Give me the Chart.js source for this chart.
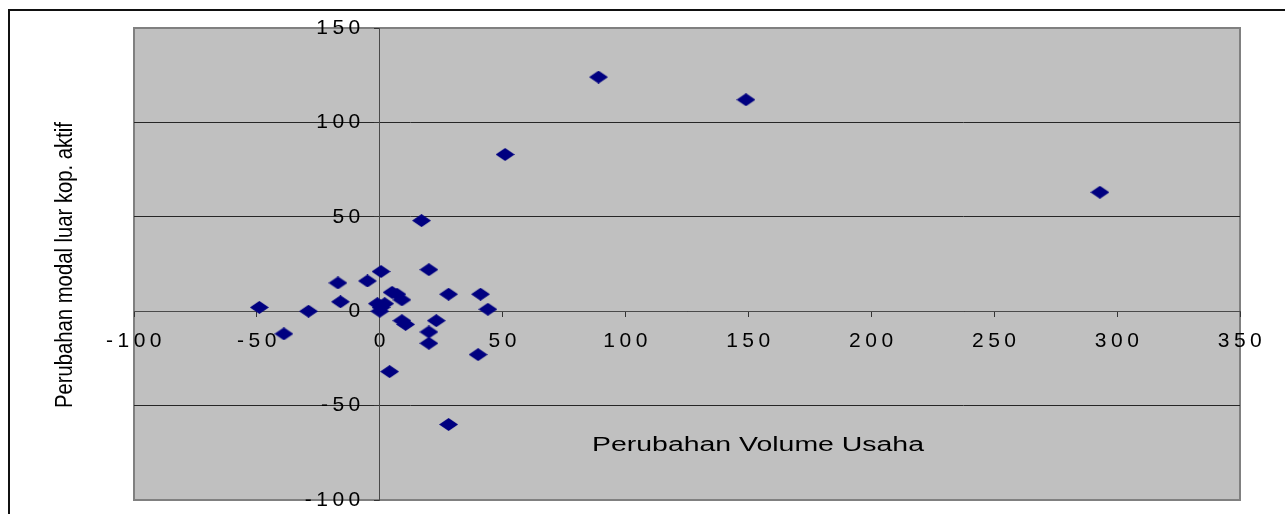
<!DOCTYPE html>
<html>
<head>
<meta charset="utf-8">
<title>Perubahan Volume Usaha</title>
<script src="https://cdn.jsdelivr.net/npm/chart.js@4.4.1/dist/chart.umd.min.js"></script>
<style>
  html, body { margin: 0; padding: 0; background: #ffffff; overflow: hidden; }
  #wrap { width: 1285px; height: 514px; }
</style>
</head>
<body>
<div id="wrap"><canvas id="chart" width="1285" height="514"></canvas></div>
<script>
// Change in business volume (x) against change in outside capital (y)
const volumeChange = [-49, -39, -29, -17, -16, -5, 0.5, -1, 0, 2, 0.5, 5, 7, 9, 9, 10.5,
                      17, 20, 20, 20, 23, 28, 41, 44, 40, 4, 28, 51, 89, 149, 293];
const capitalChange = [2, -12, 0, 15, 5, 16, 21, 4, 0, 4, 2, 10, 9, 6, -5, -7,
                       48, 22, -11, -17, -5, 9, 9, 1, -23, -32, -60, 83, 124, 112, 63];

const xTitle = 'Perubahan Volume Usaha';
const yTitle = 'Perubahan modal luar kop. aktif';

const xRange = [-100, 350];
const yRange = [-100, 150];
const tickStep = 50;

const points = volumeChange.map((v, i) => ({ x: v, y: capitalChange[i] }));

// Flattened diamond marker
function makeDiamond(w, h, color) {
  const c = document.createElement('canvas');
  c.width = w; c.height = h;
  const g = c.getContext('2d');
  g.fillStyle = color;
  g.beginPath();
  g.moveTo(w / 2, 0);
  g.lineTo(w, h / 2);
  g.lineTo(w / 2, h);
  g.lineTo(0, h / 2);
  g.closePath();
  g.fill();
  return c;
}
const diamond = makeDiamond(19, 13, '#000080');

const TICK_SPACING = '4.5px';
const FONT = '"Liberation Sans", Arial, sans-serif';

// scales sit inside the plot, so they should not push the plot edges
function noScalePadding(scale) {
  scale.paddingTop = 0;
  scale.paddingBottom = 0;
  scale.paddingLeft = 0;
  scale.paddingRight = 0;
}

const framePlugin = {
  id: 'frame',
  beforeLayout(chart) { chart.ctx.letterSpacing = TICK_SPACING; },
  beforeDraw(chart) {
    const { ctx, chartArea: a } = chart;
    ctx.save();
    ctx.letterSpacing = '0px';
    // outer chart frame (left and top edges)
    ctx.fillStyle = '#111111';
    ctx.fillRect(8, 9, 2, 505);
    ctx.fillRect(8, 9, 1277, 2);
    // plot area
    ctx.fillStyle = '#c0c0c0';
    ctx.fillRect(a.left, a.top, a.right - a.left, a.bottom - a.top);
    ctx.strokeStyle = '#808080';
    ctx.lineWidth = 2;
    ctx.strokeRect(a.left, a.top, a.right - a.left, a.bottom - a.top);
    ctx.restore();
    ctx.letterSpacing = TICK_SPACING;
  },
  afterDraw(chart) {
    const { ctx } = chart;
    ctx.save();
    ctx.letterSpacing = '0px';
    ctx.fillStyle = '#000000';
    ctx.textAlign = 'center';
    ctx.textBaseline = 'alphabetic';

    // horizontal title, inside the plot area
    ctx.font = '20px ' + FONT;
    let w = ctx.measureText(xTitle).width;
    ctx.save();
    ctx.translate(758, 451);
    ctx.scale(332 / w, 1);
    ctx.fillText(xTitle, 0, 0);
    ctx.restore();

    // vertical title, condensed
    ctx.font = '23px ' + FONT;
    w = ctx.measureText(yTitle).width;
    ctx.save();
    ctx.translate(72, 265);
    ctx.rotate(-Math.PI / 2);
    ctx.scale(286 / w, 1);
    ctx.fillText(yTitle, 0, 0);
    ctx.restore();

    ctx.restore();
  }
};

new Chart(document.getElementById('chart'), {
  type: 'scatter',
  data: {
    datasets: [{
      data: points,
      pointStyle: diamond,
      backgroundColor: '#000080',
      borderColor: '#000080',
      pointRadius: 9,
      pointHoverRadius: 9
    }]
  },
  options: {
    responsive: false,
    devicePixelRatio: 1,
    animation: false,
    layout: { padding: { left: 134, top: 28, right: 45, bottom: 14 } },
    plugins: { legend: { display: false }, tooltip: { enabled: false } },
    scales: {
      x: {
        type: 'linear',
        position: { y: 0 },
        min: xRange[0],
        max: xRange[1],
        afterFit: noScalePadding,
        grid: {
          display: true,
          drawOnChartArea: false,
          drawTicks: true,
          tickLength: 5,
          tickColor: '#333333'
        },
        border: { display: true, color: '#4a4a4a', width: 1 },
        ticks: {
          stepSize: tickStep,
          autoSkip: false,
          maxRotation: 0,
          padding: 12,
          labelOffset: 2,
          color: '#000000',
          font: { family: FONT, size: 21 }
        }
      },
      y: {
        type: 'linear',
        position: { x: 0 },
        min: yRange[0],
        max: yRange[1],
        afterFit: noScalePadding,
        grid: {
          display: true,
          drawOnChartArea: true,
          drawTicks: true,
          tickLength: 5,
          tickColor: '#333333',
          lineWidth: 1,
          color: (c) => (c.tick && (c.tick.value === yRange[0] || c.tick.value === yRange[1]))
            ? 'rgba(0,0,0,0)' : '#262626'
        },
        border: { display: true, color: '#4a4a4a', width: 1 },
        ticks: {
          stepSize: tickStep,
          autoSkip: false,
          color: '#000000',
          font: { family: FONT, size: 21 },
          // keep the labels clear of the vertical axis and its tick marks
          callback: (v) => v + '\u2002'
        }
      }
    }
  },
  plugins: [framePlugin]
});
</script>
</body>
</html>
